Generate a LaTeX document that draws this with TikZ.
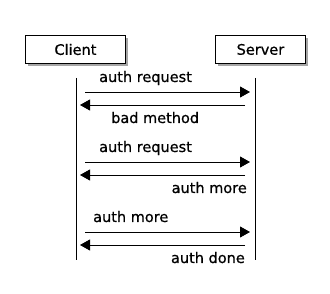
\documentclass[tikz,border=0pt]{standalone}
\usepackage{fontspec}
\setmainfont{DejaVu Sans}[BoldFont={DejaVu Sans}, BoldFeatures={FakeBold=0.7}]
\usetikzlibrary{arrows.meta}
\tikzset{
  txt/.style={font=\fontsize{14.5}{17}\selectfont\bfseries},
  actor/.style={draw=black, line width=0.9pt, fill=white, minimum width=100pt, minimum height=28pt, inner sep=0pt, txt},
  shadowbox/.style={fill=black!35, draw=none},
  life/.style={line width=0.9pt},
  msg/.style={line width=0.9pt, -{Triangle[length=10pt,width=11pt]}},
  lbl/.style={txt, inner sep=0pt}
}
\begin{document}
\begin{tikzpicture}[x=1pt,y=-1pt]
\useasboundingbox (0,0) rectangle (330,294);
% shadows
\fill[shadowbox] (28,38) rectangle (128,66);
\fill[shadowbox] (218,38) rectangle (308,66);
\node[actor, anchor=north west] (client) at (25,35) {Client};
\node[actor, anchor=north west, minimum width=90pt] (server) at (215,35) {Server};
% lifelines
\coordinate (ct) at (76,78); \coordinate (cb) at (76,260);
\coordinate (st) at (255,78); \coordinate (sb) at (255,260);
\draw[life] (ct) -- (cb);
\draw[life] (st) -- (sb);
% messages
\coordinate (a1) at (85,92); \coordinate (b1) at (250,92);
\coordinate (a2) at (245,105); \coordinate (b2) at (80,105);
\coordinate (a3) at (85,162); \coordinate (b3) at (250,162);
\coordinate (a4) at (245,175); \coordinate (b4) at (80,175);
\coordinate (a5) at (85,232); \coordinate (b5) at (250,232);
\coordinate (a6) at (245,245); \coordinate (b6) at (80,245);
\draw[msg] (a1) -- (b1);
\draw[msg] (a2) -- (b2);
\draw[msg] (a3) -- (b3);
\draw[msg] (a4) -- (b4);
\draw[msg] (a5) -- (b5);
\draw[msg] (a6) -- (b6);
% labels
\node[lbl, anchor=base west] (l1) at (99,82) {auth request};
\node[lbl, anchor=base west] (l2) at (111,123) {bad method};
\node[lbl, anchor=base west] (l3) at (99,152) {auth request};
\node[lbl, anchor=base east] (l4) at (247,193) {auth more};
\node[lbl, anchor=base west] (l5) at (93,222) {auth more};
\node[lbl, anchor=base east] (l6) at (245,263) {auth done};
\end{tikzpicture}
\end{document}
